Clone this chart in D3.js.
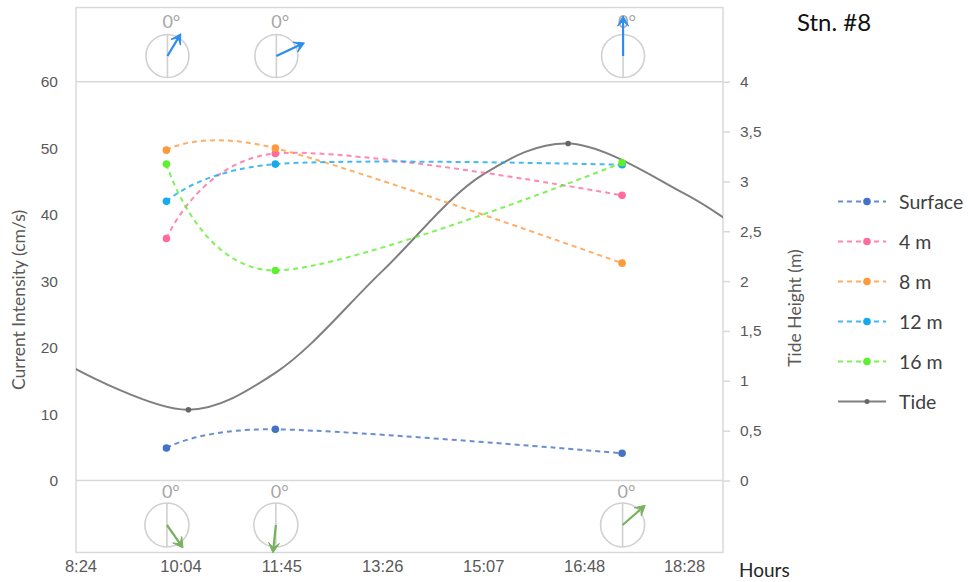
<!DOCTYPE html>
<html><head><meta charset="utf-8">
<script src="https://cdn.jsdelivr.net/npm/d3@7"></script>
<style>
html,body{margin:0;padding:0;background:#fff;}
svg{display:block;font-family:"Lato","Open Sans",sans-serif;}
</style></head>
<body>
<svg id="chart" width="968" height="582"></svg>
<script>
// ---------- data ----------
const xTickLabels = ["8:24","10:04","11:45","13:26","15:07","16:48","18:28"];
const obsTimes = ["9:50","11:39","17:26"];
const surface = [4.9, 7.7, 4.1];
const m4  = [36.4, 49.2, 42.9];
const m8  = [49.7, 50.0, 32.7];
const m12 = [42.0, 47.6, 47.5];
const m16 = [47.6, 31.6, 47.8];
const tideTimes   = ["8:19","10:12","11:39","13:26","15:07","16:32","18:28","19:10"];
const tideHeights = [1.12, 0.71, 1.08, 2.10, 3.07, 3.38, 2.88, 2.62];
const tideMarked  = [false, true, false, false, false, true, false, false];
const leftTicks  = [0,10,20,30,40,50,60];
const rightTicks = [0,0.5,1,1.5,2,2.5,3,3.5,4];
const topBearing = [31, 65, 0];
const topLength  = [26, 31, 40];
const botBearing = [145, 186, 49];
const botLength  = [28, 28, 30];
const seriesNames  = ["Surface","4 m","8 m","12 m","16 m"];
const seriesColors = ["#4472c4","#ff6b9e","#ff9a3c","#14aaec","#5cf02e"];
const seriesValues = [surface, m4, m8, m12, m16];

// ---------- layout ----------
const frame = {x0:76, x1:723, y0:7.5, y1:552.5};
const toMin = s => { const [h,m] = s.split(":").map(Number); return h*60+m; };
const x  = d3.scaleLinear().domain([toMin("8:24"), toMin("8:24")+643]).range([80.5, 723]);
const yL = d3.scaleLinear().domain([0,60]).range([480.5, 81.7]);
const yR = d3.scaleLinear().domain([0,4]).range([480.5, 81.7]);
const gridCol = "#d9d9d9", txtCol = "#595959";

const svg = d3.select("#chart");
svg.append("defs").append("clipPath").attr("id","clip")
  .append("rect").attr("x",frame.x0).attr("y",frame.y0)
  .attr("width",frame.x1-frame.x0).attr("height",frame.y1-frame.y0);

// frame and grid lines
svg.append("rect").attr("x",frame.x0).attr("y",frame.y0)
  .attr("width",frame.x1-frame.x0).attr("height",frame.y1-frame.y0)
  .attr("fill","none").attr("stroke",gridCol).attr("stroke-width",1.5);
svg.selectAll("line.grid").data([0,60]).join("line").attr("class","grid")
  .attr("x1",frame.x0).attr("x2",frame.x1)
  .attr("y1",d=>yL(d)).attr("y2",d=>yL(d))
  .attr("stroke",gridCol).attr("stroke-width",1.5);

// left axis
const gL = svg.append("g").attr("transform",`translate(${frame.x0},0)`)
  .call(d3.axisLeft(yL).tickValues(leftTicks).tickSize(0).tickPadding(18));
gL.select(".domain").remove();
gL.selectAll("text").attr("fill",txtCol).style("font-size","15.5px");

// right axis
const gR = svg.append("g").attr("transform",`translate(${frame.x1},0)`)
  .call(d3.axisRight(yR).tickValues(rightTicks).tickSize(7).tickPadding(10)
    .tickFormat(d => String(d).replace(".",",")));
gR.select(".domain").remove();
gR.selectAll("line").attr("stroke",gridCol).attr("stroke-width",1.5);
gR.selectAll("text").attr("fill",txtCol).style("font-size","15.5px");

// bottom axis
const gB = svg.append("g").attr("transform",`translate(0,${frame.y1})`)
  .call(d3.axisBottom(x).tickValues(xTickLabels.map(toMin)).tickSize(0).tickPadding(8)
    .tickFormat((d,i)=>xTickLabels[i]));
gB.select(".domain").remove();
gB.selectAll("text").attr("fill",txtCol).style("font-size","16.5px");

// axis titles
svg.append("text").attr("transform","translate(25,300) rotate(-90)")
  .attr("text-anchor","middle").attr("fill",txtCol).style("font-size","17.5px")
  .text("Current Intensity (cm/s)");
svg.append("text").attr("transform","translate(801,308) rotate(-90)")
  .attr("text-anchor","middle").attr("fill",txtCol).style("font-size","17.5px")
  .text("Tide Height (m)");
svg.append("text").attr("x",739).attr("y",577).attr("fill","#262626")
  .style("font-size","19px").text("Hours");
svg.append("text").attr("x",797).attr("y",31).attr("fill","#111")
  .style("font-size","24px").text("Stn. #8");

// plot content
const plot = svg.append("g").attr("clip-path","url(#clip)");

// tide
const tideData = tideTimes.map((t,i)=>({t:toMin(t), v:tideHeights[i], m:tideMarked[i]}));
plot.append("path").datum(tideData)
  .attr("d", d3.line().x(d=>x(d.t)).y(d=>yR(d.v)).curve(d3.curveCatmullRom.alpha(0.5)))
  .attr("fill","none").attr("stroke","#7f7f7f").attr("stroke-width",2);
plot.selectAll("circle.tide").data(tideData.filter(d=>d.m)).join("circle")
  .attr("class","tide").attr("cx",d=>x(d.t)).attr("cy",d=>yR(d.v)).attr("r",2.8)
  .attr("fill","#666");

// series
const lineGen = d3.line().x(d=>x(d.t)).y(d=>yL(d.v)).curve(d3.curveCardinal.tension(0));
seriesValues.forEach((vals,si)=>{
  const data = vals.map((v,i)=>({t:toMin(obsTimes[i]), v}));
  plot.append("path").datum(data).attr("d",lineGen)
    .attr("fill","none").attr("stroke",seriesColors[si]).attr("stroke-width",2)
    .attr("stroke-dasharray","5,4").attr("opacity",0.8);
  plot.selectAll(null).data(data).join("circle")
    .attr("cx",d=>x(d.t)).attr("cy",d=>yL(d.v)).attr("r",3.8)
    .attr("fill",seriesColors[si]);
});

// compasses
function compass(cx, cy, r, bearing, len, col, labelY){
  const g = svg.append("g");
  g.append("circle").attr("cx",cx).attr("cy",cy).attr("r",r)
    .attr("fill","none").attr("stroke","#d0d0d0").attr("stroke-width",1.6);
  g.append("line").attr("x1",cx).attr("x2",cx).attr("y1",cy-r).attr("y2",cy+r)
    .attr("stroke","#d0d0d0").attr("stroke-width",1.6);
  g.append("text").attr("x",cx-5).attr("y",labelY).attr("fill","#a6a6a6")
    .style("font-size","18px").text("0°");
  const a = bearing*Math.PI/180;
  const ux = Math.sin(a), uy = -Math.cos(a);
  const tx = cx+ux*len, ty = cy+uy*len;
  g.append("line").attr("x1",cx).attr("y1",cy).attr("x2",tx-ux*4).attr("y2",ty-uy*4)
    .attr("stroke",col).attr("stroke-width",2.2);
  const hl = 10, hw = 5.5, notch = 5;
  const bx = tx-ux*hl, by = ty-uy*hl, px = -uy, py = ux;
  const head = [[tx,ty],[bx+px*hw,by+py*hw],[tx-ux*(hl-notch),ty-uy*(hl-notch)],[bx-px*hw,by-py*hw]];
  g.append("path").attr("d","M"+head.map(p=>p.join(",")).join("L")+"Z").attr("fill",col)
    .attr("stroke",col).attr("stroke-width",1).attr("stroke-linejoin","round");
}
obsTimes.forEach((t,i)=>{
  compass(x(toMin(t))+1, 56, 21.5, topBearing[i], topLength[i], "#2d8cf0", 28);
  compass(x(toMin(t))+0.5, 525, 22, botBearing[i], botLength[i], "#78b15f", 498);
});

// legend
const legY0 = 201.5, legStep = 40;
const legNames = seriesNames.concat(["Tide"]);
const legCols = seriesColors.concat(["#7f7f7f"]);
legNames.forEach((n,i)=>{
  const y = legY0 + i*legStep;
  const isTide = i===legNames.length-1;
  svg.append("line").attr("x1",838).attr("x2",886).attr("y1",y).attr("y2",y)
    .attr("stroke",legCols[i]).attr("stroke-width",2)
    .attr("stroke-dasharray",isTide?null:"5,4").attr("opacity",isTide?1:0.8);
  svg.append("circle").attr("cx",867).attr("cy",y).attr("r",isTide?2.5:3.8)
    .attr("fill",isTide?"#666":legCols[i]);
  svg.append("text").attr("x",899).attr("y",y+7).attr("fill","#404040")
    .style("font-size","19.5px").text(n);
});
</script>
</body></html>
